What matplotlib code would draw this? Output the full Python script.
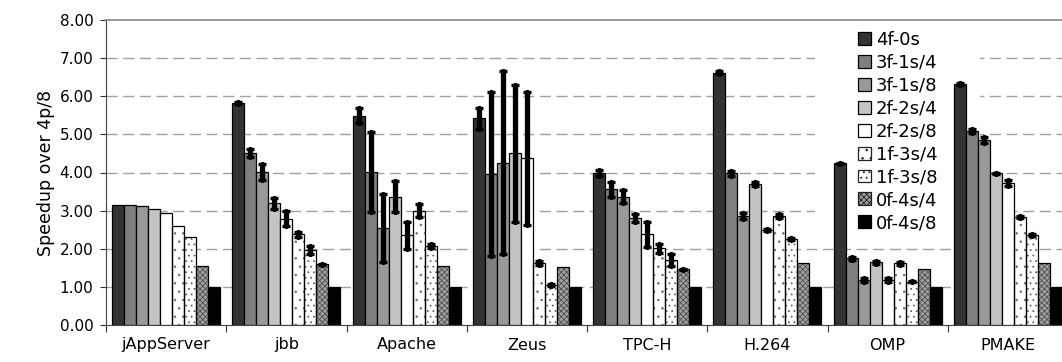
import matplotlib
matplotlib.use("Agg")
import matplotlib.pyplot as plt
from matplotlib.patches import Patch, Rectangle
import numpy as np

plt.rcParams['font.family'] = ['DejaVu Sans']

categories = ["jAppServer", "jbb", "Apache", "Zeus", "TPC-H", "H.264", "OMP", "PMAKE"]
series = ["4f-0s", "3f-1s/4", "3f-1s/8", "2f-2s/4", "2f-2s/8", "1f-3s/4", "1f-3s/8", "0f-4s/4", "0f-4s/8"]

v_4f0s   = [3.15, 5.82, 5.49, 5.42, 3.98, 6.62, 4.24, 6.32]
v_3f1s4  = [3.15, 4.51, 4.01, 3.96, 3.56, 3.98, 1.75, 5.09]
v_3f1s8  = [3.12, 4.01, 2.54, 4.26, 3.37, 2.87, 1.18, 4.85]
v_2f2s4  = [3.04, 3.19, 3.37, 4.50, 2.81, 3.70, 1.64, 3.98]
v_2f2s8  = [2.95, 2.79, 2.35, 4.37, 2.38, 2.49, 1.18, 3.73]
v_1f3s4  = [2.60, 2.38, 3.00, 1.63, 2.01, 2.86, 1.62, 2.83]
v_1f3s8  = [2.30, 1.97, 2.08, 1.05, 1.70, 2.26, 1.14, 2.36]
v_0f4s4  = [1.56, 1.59, 1.56, 1.53, 1.46, 1.62, 1.46, 1.62]
v_0f4s8  = [1.00, 1.00, 1.00, 1.00, 1.00, 1.00, 1.00, 1.00]

e_4f0s   = [0.00, 0.03, 0.20, 0.28, 0.08, 0.03, 0.02, 0.03]
e_3f1s4  = [0.00, 0.10, 1.05, 2.15, 0.20, 0.07, 0.04, 0.05]
e_3f1s8  = [0.00, 0.20, 0.90, 2.40, 0.18, 0.08, 0.05, 0.07]
e_2f2s4  = [0.00, 0.15, 0.40, 1.80, 0.10, 0.05, 0.04, 0.02]
e_2f2s8  = [0.00, 0.20, 0.35, 1.75, 0.33, 0.03, 0.04, 0.08]
e_1f3s4  = [0.00, 0.07, 0.17, 0.05, 0.12, 0.05, 0.04, 0.02]
e_1f3s8  = [0.00, 0.10, 0.05, 0.02, 0.15, 0.03, 0.02, 0.02]
e_0f4s4  = [0.00, 0.02, 0.00, 0.00, 0.01, 0.00, 0.00, 0.00]
e_0f4s8  = [0.00, 0.00, 0.00, 0.00, 0.00, 0.00, 0.00, 0.00]

values = [v_4f0s, v_3f1s4, v_3f1s8, v_2f2s4, v_2f2s8, v_1f3s4, v_1f3s8, v_0f4s4, v_0f4s8]
errors = [e_4f0s, e_3f1s4, e_3f1s8, e_2f2s4, e_2f2s8, e_1f3s4, e_1f3s8, e_0f4s4, e_0f4s8]

styles = [
    dict(fc='#333333', hatch=None, hc=None, hlw=1),
    dict(fc='#7f7f7f', hatch=None, hc=None, hlw=1),
    dict(fc='#999999', hatch=None, hc=None, hlw=1),
    dict(fc='#c4c4c4', hatch=None, hc=None, hlw=1),
    dict(fc='#ffffff', hatch=None, hc=None, hlw=1),
    dict(fc='#ffffff', hatch='..', hc='#666666', hlw=0.5),
    dict(fc='#ffffff', hatch='...', hc='#555555', hlw=0.5),
    dict(fc='#a0a0a0', hatch='xxxxxx', hc='#505050', hlw=0.6),
    dict(fc='#000000', hatch=None, hc=None, hlw=1),
]

W, H = 1062, 362
fig = plt.figure(figsize=(W / 100, H / 100), dpi=100)
ax = fig.add_axes([106 / W, 1 - 325 / H, (1068 - 106) / W, 305 / H])

x = np.arange(len(categories))
w = 0.1
handles = []
for j, (vals, errs, st) in enumerate(zip(values, errors, styles)):
    pos = x + 0.1 + w * j
    if st['hatch']:
        plt.rcParams['hatch.linewidth'] = st['hlw']
        plt.rcParams['hatch.color'] = st['hc']
        ax.bar(pos, vals, w, color=st['fc'], edgecolor=st['hc'], linewidth=0,
               hatch=st['hatch'], zorder=2)
        ax.bar(pos, vals, w, facecolor='none', edgecolor='black', linewidth=0.9,
               zorder=3)
        handles.append(Patch(facecolor=st['fc'], edgecolor='#222222',
                             hatch=st['hatch'], linewidth=0.9))
    else:
        h = ax.bar(pos, vals, w, color=st['fc'], edgecolor='black', linewidth=0.9, zorder=3)
        handles.append(h)
    errs_a = np.array(errs)
    mask = errs_a > 0
    eb = ax.errorbar(pos[mask], np.array(vals)[mask], yerr=errs_a[mask], fmt='none',
                     ecolor='black', elinewidth=3.8, capsize=2.8, capthick=2.4, zorder=4)
    for lc in eb[2]:
        lc.set_capstyle('round')

ax.set_xlim(0, 8)
ax.set_ylim(0, 8)
ax.set_yticks(np.arange(0, 9, 1))
ax.set_yticklabels([f"{v:.2f}" for v in np.arange(0, 9, 1)], fontsize=11)
for yv in range(1, 8):
    ax.axhline(yv, color='#a0a0a0', linewidth=1.0, linestyle=(0, (8, 4)), zorder=1)

# white area behind the legend (hides grid lines there)
ax.add_patch(Rectangle((5.90, 2.33), 1.37, 5.67, facecolor='white',
                       edgecolor='none', zorder=1.5))

ax.set_xticks(np.arange(0, 9, 1))
ax.set_xticklabels([])
ax.set_xticks(x + 0.5, minor=True)
ax.set_xticklabels(categories, minor=True, fontsize=11.5)
ax.tick_params(axis='x', which='major', length=5, direction='out', color='#333333')
ax.tick_params(axis='x', which='minor', length=0, pad=9)
ax.tick_params(axis='y', length=4, direction='out', color='#333333', pad=5)

ax.set_ylabel("Speedup over 4p/8", fontsize=12.5, labelpad=3)

ax.spines['right'].set_visible(False)
ax.spines['top'].set_color('#888888')
ax.spines['top'].set_linewidth(1.2)
ax.spines['bottom'].set_color('#444444')
ax.spines['left'].set_color('#444444')

leg = ax.legend(handles, series, loc='upper left',
                bbox_to_anchor=(858 / W, 1 - 31 / H), bbox_transform=fig.transFigure,
                frameon=False, fontsize=13, handlelength=0.72, handleheight=0.72,
                handletextpad=0.28, labelspacing=0.27, borderpad=0.0, borderaxespad=0.0)
leg.set_zorder(5)

fig.savefig("out.png", dpi=100)
